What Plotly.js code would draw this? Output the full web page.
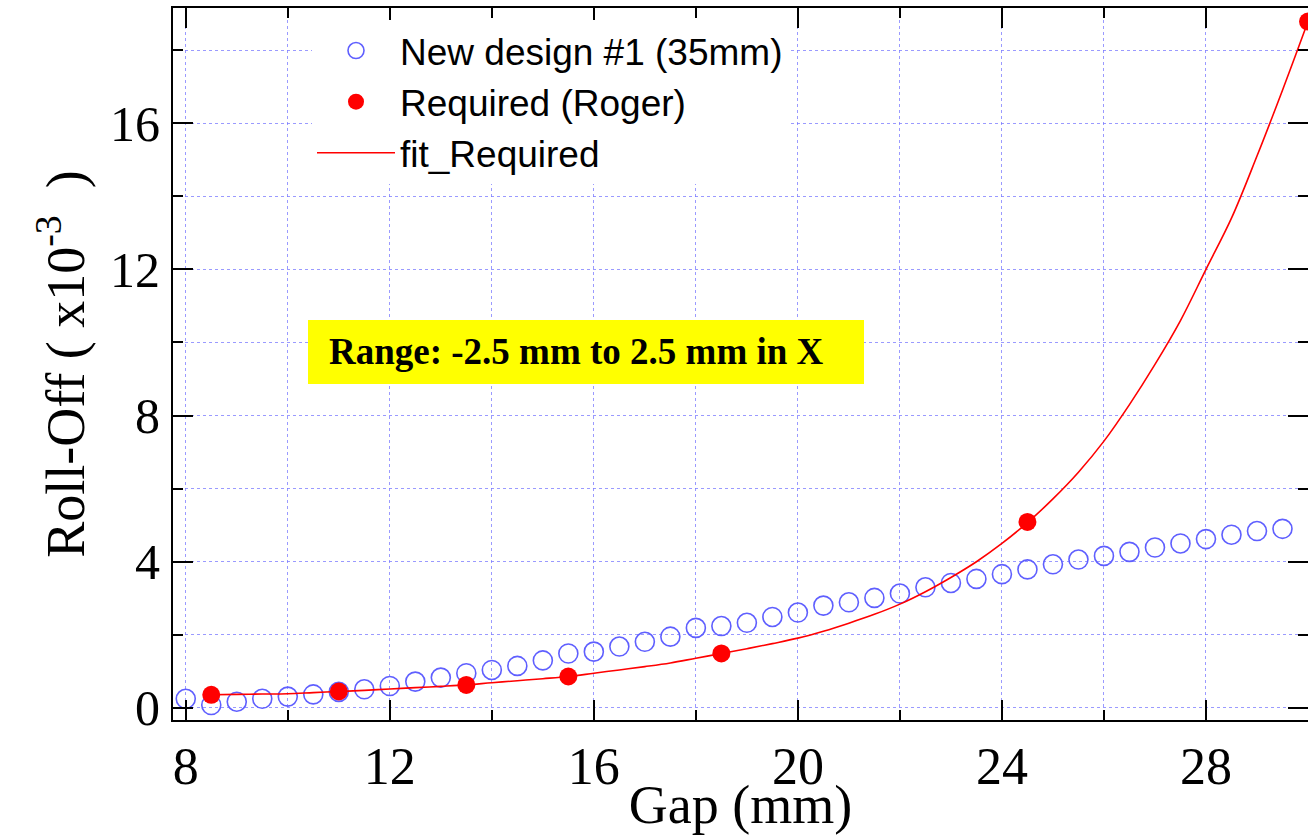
<!DOCTYPE html>
<html>
<head>
<meta charset="utf-8">
<script src="https://cdn.plot.ly/plotly-3.0.1.min.js"></script>
<style>
  html, body { margin: 0; padding: 0; background: #ffffff; }
  #chart { width: 1308px; height: 840px; }
</style>
</head>
<body>
<div id="chart"></div>
<script>
// ---- Data ----
const gapNew = [8, 8.5, 9, 9.5, 10, 10.5, 11, 11.5, 12, 12.5, 13, 13.5, 14, 14.5, 15, 15.5,
  16, 16.5, 17, 17.5, 18, 18.5, 19, 19.5, 20, 20.5, 21, 21.5, 22, 22.5, 23, 23.5,
  24, 24.5, 25, 25.5, 26, 26.5, 27, 27.5, 28, 28.5, 29, 29.5];
const rollNew = [0.25, 0.08, 0.17, 0.25, 0.31, 0.37, 0.44, 0.51, 0.60, 0.72, 0.83, 0.95, 1.04, 1.15, 1.30, 1.49,
  1.54, 1.68, 1.81, 1.95, 2.19, 2.24, 2.33, 2.49, 2.61, 2.80, 2.89, 3.01, 3.13, 3.30, 3.42, 3.53,
  3.66, 3.79, 3.93, 4.06, 4.16, 4.27, 4.39, 4.50, 4.62, 4.74, 4.84, 4.90];

const gapReq = [8.5, 11, 13.5, 15.5, 18.5, 24.5, 30];
const rollReq = [0.36, 0.45, 0.63, 0.86, 1.49, 5.09, 18.78];

const gapFit = [8.5, 9, 9.5, 10, 10.5, 11, 11.5, 12, 12.5, 13, 13.5, 14, 14.5, 15, 15.5,
  16, 16.5, 17, 17.5, 18, 18.5, 19, 19.5, 20, 20.5, 21, 21.5, 22, 22.5, 23, 23.5,
  24, 24.5, 25, 25.5, 26, 26.5, 27, 27.5, 28, 28.5, 29, 29.5, 30];
const rollFit = [0.36, 0.37, 0.38, 0.39, 0.42, 0.45, 0.48, 0.52, 0.555, 0.59, 0.63, 0.69, 0.745, 0.80, 0.86,
  0.95, 1.04, 1.13, 1.23, 1.36, 1.49, 1.62, 1.76, 1.91, 2.10, 2.32, 2.56, 2.84, 3.18, 3.57, 4.00,
  4.50, 5.07, 5.72, 6.45, 7.30, 8.30, 9.40, 10.6, 12.0, 13.4, 15.1, 16.9, 18.78];

const seriesNames = ["New design #1 (35mm)", "Required (Roger)", "fit_Required"];
const xTitle = "Gap (mm)";
const yTitle = "Roll-Off ( x10<sup>-3</sup>&nbsp; )";
const noteText = "Range: -2.5 mm to 2.5 mm in X";

// ---- Styles ----
const serif = "Times New Roman, Liberation Serif, serif";
const sans = "Arial, Liberation Sans, sans-serif";
const gridCol = "rgba(120,120,255,0.75)";

const traces = [
  {
    x: gapNew, y: rollNew, name: seriesNames[0], type: "scatter", mode: "markers",
    marker: { symbol: "circle-open", size: 19, color: "#5f5fff", line: { width: 1.6, color: "#5f5fff" } }
  },
  {
    x: gapReq, y: rollReq, name: seriesNames[1], type: "scatter", mode: "markers",
    marker: { symbol: "circle", size: 18, color: "#ff0000" }
  },
  {
    x: gapFit, y: rollFit, name: seriesNames[2], type: "scatter", mode: "lines",
    line: { color: "#ff0000", width: 1.6, shape: "spline", smoothing: 1 }
  }
];

function axisBase() {
  return {
    showline: true, linecolor: "#000", linewidth: 2, mirror: "ticks",
    ticks: "inside", ticklen: 20, tickwidth: 2, tickcolor: "#000",
    showgrid: true, gridcolor: gridCol, gridwidth: 1, griddash: "dot",
    zeroline: false,
    tickfont: { family: serif, size: 52, color: "#000" },
    minor: { ticks: "inside", ticklen: 10, tickwidth: 2, tickcolor: "#000",
             showgrid: true, gridcolor: gridCol, gridwidth: 1, griddash: "dot" }
  };
}

const xaxis = Object.assign(axisBase(), {
  range: [7.75, 30.0], tick0: 8, dtick: 4, automargin: false,
  title: { text: xTitle, font: { family: serif, size: 54, color: "#000" }, standoff: 0 }
});
xaxis.minor.dtick = 2; xaxis.minor.tick0 = 8;

const yaxis = Object.assign(axisBase(), {
  range: [-0.33, 19.15], tick0: 0, dtick: 4, automargin: false,
  ticklabelstandoff: 1,
  tickfont: { family: serif, size: 50, color: "#000" },
  title: { text: yTitle, font: { family: serif, size: 54, color: "#000" }, standoff: 8 }
});
yaxis.minor.dtick = 2; yaxis.minor.tick0 = 0;

const L = 173, R = 1308, T = 8, B = 720;
const px2x = p => (p - L) / (R - L);
const px2y = p => (B - p) / (B - T);

const layout = {
  width: 1308, height: 840,
  margin: { l: L, r: 1308 - R, t: T, b: 840 - B, pad: 0 },
  paper_bgcolor: "#fff", plot_bgcolor: "#fff",
  showlegend: true,
  xaxis: xaxis, yaxis: yaxis,
  legend: {
    x: px2x(312), y: px2y(20), xanchor: "left", yanchor: "top",
    bgcolor: "#fff", borderwidth: 0, itemwidth: 78,
    font: { family: sans, size: 37, color: "#000" },
    tracegroupgap: 0
  },
  shapes: [
    { type: "rect", xref: "paper", yref: "paper",
      x0: px2x(308), x1: px2x(864), y0: px2y(384), y1: px2y(320),
      fillcolor: "#ffff00", line: { width: 0 }, layer: "above" }
  ],
  annotations: [
    { xref: "paper", yref: "paper", x: px2x(327), y: px2y(352),
      xanchor: "left", yanchor: "middle", showarrow: false,
      text: "<b>" + noteText + "</b>",
      font: { family: serif, size: 37, color: "#000" } }
  ]
};

Plotly.newPlot("chart", traces, layout, { displayModeBar: false, staticPlot: true }).then(function () {
  // nudge the x-axis title slightly upward, as in the reference
  const t = document.querySelector(".g-xtitle text");
  if (t) {
    const y = parseFloat(t.getAttribute("y"));
    t.setAttribute("y", y - 5);
  }
});
</script>
</body>
</html>
